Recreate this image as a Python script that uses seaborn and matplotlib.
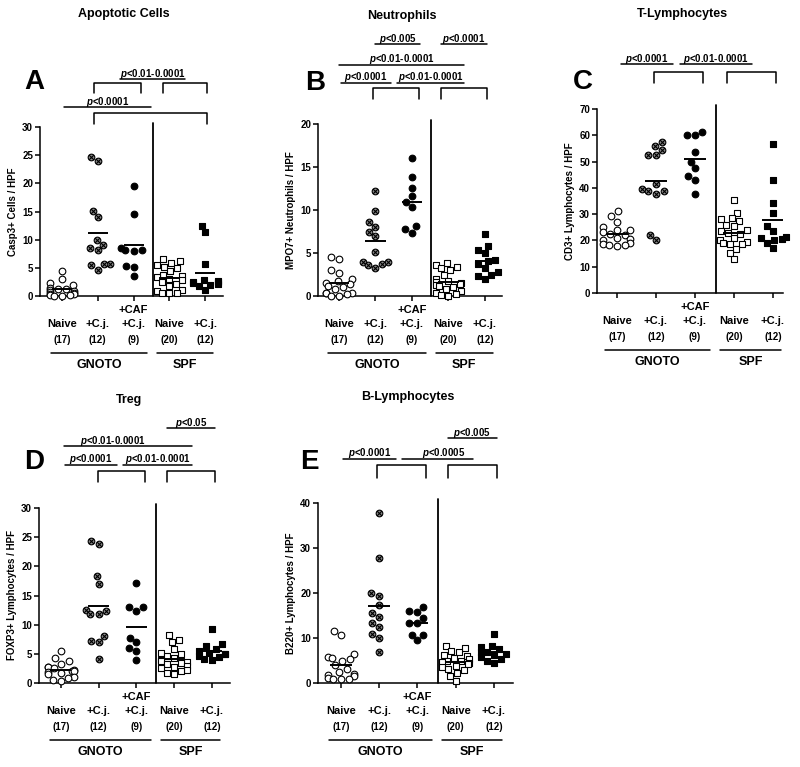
import numpy as np
import matplotlib
matplotlib.use('Agg')
import matplotlib.pyplot as plt
from matplotlib.path import Path
import seaborn as sns

groups = ['GNOTO Naive', 'GNOTO +C.j.', 'GNOTO +CAF +C.j.', 'SPF Naive', 'SPF +C.j.']
label_top = ['', '', '+CAF', '', '']
label_mid = ['Naive', '+C.j.', '+C.j.', 'Naive', '+C.j.']
label_n = ['(17)', '(12)', '(9)', '(20)', '(12)']

titles = ['Apoptotic Cells', 'Neutrophils', 'T-Lymphocytes', 'Treg', 'B-Lymphocytes']
letters = ['A', 'B', 'C', 'D', 'E']
ylabels = ['Casp3+ Cells / HPF', 'MPO7+ Neutrophils / HPF', 'CD3+ Lymphocytes / HPF',
           'FOXP3+ Lymphocytes / HPF', 'B220+ Lymphocytes / HPF']
ymax = [30, 20, 70, 30, 40]
ystep = [5, 5, 10, 5, 10]

# values per group
casp3 = [
    [4.4, 3.0, 2.3, 2.0, 1.5, 1.3, 1.2, 1.0, 0.8, 0.7, 0.5, 0.4, 0.3, 0.2, 0.1, 0.0, 0.0],
    [24.7, 23.9, 15.1, 14.0, 10.0, 9.1, 8.6, 8.1, 5.7, 5.6, 5.5, 4.7],
    [19.6, 14.6, 8.5, 8.2, 8.2, 8.0, 5.4, 5.1, 3.5],
    [6.5, 6.2, 5.8, 5.5, 5.2, 5.0, 4.4, 3.8, 3.5, 3.3, 3.1, 2.8, 2.5, 2.2, 1.8, 1.0, 0.8, 0.6, 0.5, 0.5],
    [12.5, 11.3, 5.6, 2.8, 2.6, 2.5, 2.4, 2.3, 2.2, 2.0, 1.8, 1.0],
]
mpo7 = [
    [4.5, 4.3, 3.0, 2.7, 2.0, 1.7, 1.5, 1.4, 1.2, 1.0, 0.8, 0.4, 0.3, 0.3, 0.2, 0.0, 0.0],
    [12.2, 9.9, 8.6, 8.0, 7.5, 7.0, 5.1, 4.0, 3.9, 3.7, 3.6, 3.2],
    [16.0, 13.8, 12.6, 11.6, 10.9, 10.3, 8.1, 7.8, 7.3],
    [3.8, 3.6, 3.4, 3.3, 3.0, 2.5, 2.0, 1.8, 1.6, 1.5, 1.4, 1.3, 1.2, 1.0, 0.8, 0.6, 0.3, 0.2, 0.1, 0.0],
    [7.2, 5.8, 5.4, 5.0, 4.2, 4.1, 3.7, 3.3, 2.8, 2.5, 2.3, 2.0],
]
cd3 = [
    [31.2, 29.3, 27.1, 25.0, 24.1, 23.8, 23.1, 22.5, 21.9, 21.0, 20.5, 20.0, 19.2, 18.5, 18.3, 18.2, 18.0],
    [57.5, 56.0, 54.3, 52.4, 52.4, 41.5, 39.5, 38.8, 38.8, 37.8, 22.2, 20.3],
    [61.4, 60.1, 60.1, 53.5, 50.0, 47.4, 44.6, 42.9, 37.8],
    [35.3, 30.5, 28.5, 28.0, 27.5, 26.0, 25.5, 24.0, 23.5, 23.0, 22.5, 21.0, 20.3, 19.5, 19.0, 18.7,
     18.5, 16.7, 15.2, 12.8],
    [56.8, 43.0, 34.2, 30.6, 25.5, 23.5, 21.2, 20.8, 20.5, 20.0, 19.0, 17.2],
]
foxp3 = [
    [5.5, 4.3, 3.7, 3.3, 2.8, 2.7, 2.5, 2.3, 2.1, 2.0, 1.9, 1.8, 1.5, 1.0, 0.9, 0.5, 0.4],
    [24.3, 23.8, 18.3, 17.0, 12.6, 12.3, 11.9, 11.8, 8.0, 7.2, 7.0, 4.2],
    [17.2, 13.1, 13.0, 12.4, 7.8, 7.0, 6.0, 5.5, 4.0],
    [8.2, 7.4, 7.0, 5.8, 5.2, 4.9, 4.6, 4.3, 4.0, 3.8, 3.6, 3.5, 3.3, 3.0, 2.8, 2.5, 2.2, 2.0, 1.8, 1.5],
    [9.2, 6.7, 6.3, 5.8, 5.5, 5.2, 5.0, 4.9, 4.7, 4.4, 4.2, 4.0],
]
b220 = [
    [11.6, 10.6, 6.5, 5.8, 5.6, 5.3, 5.0, 4.0, 3.2, 2.5, 2.0, 1.8, 1.5, 1.2, 1.0, 0.9, 0.8],
    [37.7, 27.8, 19.9, 19.4, 17.4, 15.5, 14.7, 13.3, 12.5, 10.9, 10.0, 7.0],
    [17.0, 16.1, 15.8, 14.5, 13.3, 13.3, 10.7, 10.7, 9.5],
    [8.3, 7.8, 7.2, 6.8, 6.3, 6.0, 5.6, 5.3, 5.0, 4.8, 4.6, 4.5, 4.2, 3.8, 3.5, 3.2, 2.8, 2.2, 1.6, 0.5],
    [10.8, 8.3, 8.0, 7.5, 7.0, 6.8, 6.5, 6.2, 5.8, 5.3, 5.0, 4.5],
]
panels = [casp3, mpo7, cd3, foxp3, b220]

# p-value bars: (x from, x to, y px, text, text x or None) and brackets: (x from, x to, top px, bottom px)
# x in group units (0..4)
sig_lines = [
    [(1.62, 3.45, 79, '0.01-0.0001', None), (0.06, 2.5, 107, '0.0001', None)],
    [(0.99, 2.22, 44, '0.005', None), (2.8, 4.05, 44, '0.0001', None),
     (0.0, 3.42, 65, '0.01-0.0001', None), (0.05, 1.42, 83, '0.0001', None),
     (1.6, 3.42, 83, '0.01-0.0001', None)],
    [(0.1, 1.44, 64, '0.0001', None), (1.62, 3.46, 64, '0.01-0.0001', None)],
    [(2.81, 4.08, 428, '0.05', None), (0.08, 3.47, 446, '0.01-0.0001', 1.38),
     (0.1, 1.49, 465, '0.0001', None), (1.64, 3.47, 465, '0.01-0.0001', None)],
    [(2.8, 4.07, 438, '0.005', None), (0.05, 1.44, 459, '0.0001', None),
     (1.6, 3.45, 459, '0.0005', 2.69)],
]
brackets = [
    [(0.9, 2.2, 83, 93), (2.83, 4.06, 83, 93), (0.9, 4.06, 113, 124)],
    [(0.94, 2.19, 88, 99), (2.8, 4.05, 88, 99)],
    [(0.95, 2.2, 72, 83), (2.82, 4.08, 72, 83)],
    [(0.98, 2.23, 471, 482), (2.81, 4.08, 471, 482)],
    [(0.94, 2.22, 465, 478), (2.8, 4.07, 465, 478)],
]

# layout in pixels (left, top, right, bottom)
boxes = [(40, 127, 223, 296), (318, 124, 502, 296), (597, 109, 783, 293),
         (39, 508, 230, 683), (318, 503, 513, 683)]
xlims = [(-0.615, 4.5), (-0.575, 4.47), (-0.51, 4.26), (-0.58, 4.48), (-0.6, 4.5)]
title_xy = [(124, 14), (402, 16), (682, 14), (129, 400), (408, 397)]
letter_xy = [(34, 82), (315, 83), (583, 82), (34, 462), (309, 462)]

sns.set_style('ticks')
plt.rcParams['font.family'] = ['Liberation Sans', 'DejaVu Sans']
plt.rcParams['font.weight'] = 'bold'
plt.rcParams['mathtext.fontset'] = 'custom'
plt.rcParams['mathtext.it'] = 'Liberation Sans:italic:bold'
plt.rcParams['mathtext.rm'] = 'Liberation Sans:bold'
for key in ['text.color', 'axes.labelcolor', 'axes.edgecolor', 'xtick.color', 'ytick.color']:
    plt.rcParams[key] = 'black'

# circle with a cross inside
circ = Path.unit_circle()
cross = Path([(-0.6, -0.6), (0.6, 0.6), (-0.6, 0.6), (0.6, -0.6)],
             [Path.MOVETO, Path.LINETO, Path.MOVETO, Path.LINETO])
otimes = Path.make_compound_path(circ, cross)

styles = [
    dict(marker='o', color='white'),
    dict(marker=otimes, color='#888888'),
    dict(marker='o', color='black'),
    dict(marker='s', color='white'),
    dict(marker='s', color='black'),
]

# group spacing on the native x scale; seaborn gives each swarm 0.8 units,
# so this keeps every swarm at ~0.7 of the spacing
step = 1.15


def X(c):
    return np.asarray(c) * step


W, H = 800, 767
fig = plt.figure(figsize=(W / 100, H / 100), dpi=100)
lw = 1.1

for k in range(5):
    l, t, r, b = boxes[k]
    ax = fig.add_axes([l / W, 1 - b / H, (r - l) / W, (b - t) / H])
    ax.set_ylim(0, ymax[k])
    ax.set_xlim(X(xlims[k][0]), X(xlims[k][1]))

    def fy(py, t=t, b=b):
        return (b - py) / (b - t)

    tr = ax.get_xaxis_transform()
    for i, vals in enumerate(panels[k]):
        sns.swarmplot(x=[X(i)] * len(vals), y=vals, native_scale=True, orient='x', ax=ax,
                      size=4.8 if i < 3 else 4.5, edgecolor='black', linewidth=0.8,
                      clip_on=False, zorder=3, warn_thresh=1, **styles[i])
        ax.hlines(np.mean(vals), X(i - 0.28), X(i + 0.28), color='black', lw=1.4, zorder=4)

    ax.set_xlim(X(xlims[k][0]), X(xlims[k][1]))
    ax.set_ylim(0, ymax[k])
    ax.set_xticks(X(np.arange(5)))
    ax.set_yticks(np.arange(0, ymax[k] + 1, ystep[k]))
    ax.tick_params(axis='both', direction='out', length=3.5, width=lw, labelsize=7,
                   pad=1.5, labelbottom=False)
    ax.set_xlabel('')
    ax.set_ylabel(ylabels[k], fontsize=7, fontweight='bold', labelpad=3)
    sns.despine(ax=ax)
    for s in ['left', 'bottom']:
        ax.spines[s].set_linewidth(lw)

    # GNOTO / SPF divider
    ax.plot(X([2.53, 2.53]), [0, fy(t - 4)], transform=tr, color='black', lw=1.3, clip_on=False)

    # category labels
    for i in range(5):
        if label_top[i]:
            ax.text(X(i), fy(b + 14), label_top[i], transform=tr, ha='center', va='center', fontsize=8)
        ax.text(X(i), fy(b + 28), label_mid[i], transform=tr, ha='center', va='center', fontsize=8)
        ax.text(X(i), fy(b + 44), label_n[i], transform=tr, ha='center', va='center', fontsize=7)
    for x0, x1, name in [(-0.3, 2.38, 'GNOTO'), (2.65, 4.22, 'SPF')]:
        ax.plot(X([x0, x1]), [fy(b + 57)] * 2, transform=tr, color='black', lw=lw, clip_on=False)
        ax.text(X((x0 + x1) / 2), fy(b + 69), name, transform=tr, ha='center', va='center', fontsize=9)

    # significance annotations
    for x0, x1, py, txt, tx in sig_lines[k]:
        ax.plot(X([x0, x1]), [fy(py)] * 2, transform=tr, color='black', lw=lw, clip_on=False)
        xc = (x0 + x1) / 2 if tx is None else tx
        ax.text(X(xc), fy(py - 2.5), r'$p$<' + txt, transform=tr, ha='center', va='baseline', fontsize=7)
    for x0, x1, pt, pb in brackets[k]:
        ax.plot(X([x0, x0, x1, x1]), [fy(pb), fy(pt), fy(pt), fy(pb)], transform=tr,
                color='black', lw=lw, clip_on=False)

    fig.text(title_xy[k][0] / W, 1 - title_xy[k][1] / H, titles[k], ha='center', va='center', fontsize=9)
    fig.text(letter_xy[k][0] / W, 1 - letter_xy[k][1] / H, letters[k], ha='center', va='center',
             fontsize=20)

fig.savefig('out.png', dpi=100)
